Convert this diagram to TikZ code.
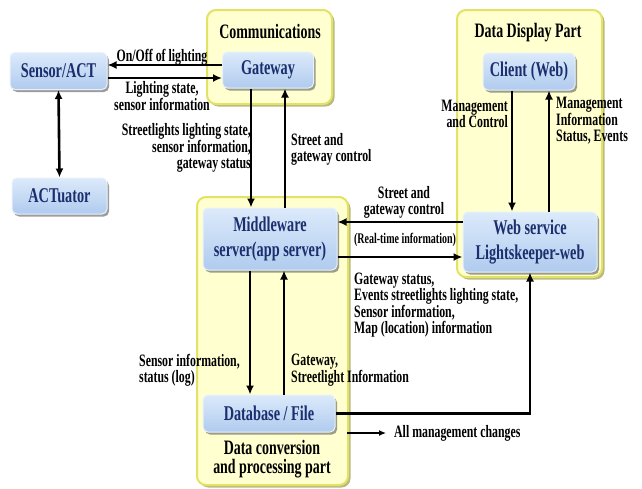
\documentclass[tikz,border=0pt]{standalone}
\usepackage{fontspec}
\setmainfont{Liberation Serif}[FakeStretch=0.68]
\usetikzlibrary{arrows.meta,shadows}
\definecolor{boxtext}{HTML}{1B2F6E}
\definecolor{boxtop}{HTML}{DCEAFB}
\definecolor{boxbot}{HTML}{B0CBEE}
\definecolor{boxrim}{HTML}{E8F1FC}
\definecolor{panelfill}{HTML}{FFFFCF}
\definecolor{panelrim}{HTML}{E2E266}
\definecolor{panelshade}{HTML}{A8A860}
\tikzset{
  panel/.style={draw=panelrim, line width=2pt, fill=panelfill, rounded corners=9pt,
    drop shadow={shadow xshift=2.5pt, shadow yshift=-2.5pt, fill=panelshade, opacity=0.8}},
  unit/.style={draw=boxrim, line width=1pt, top color=boxtop, bottom color=boxbot,
    rounded corners=5pt, text=boxtext, align=center, inner sep=0pt,
    font=\fontsize{21}{24.5}\selectfont\bfseries,
    drop shadow={shadow xshift=2pt, shadow yshift=-2.5pt, fill=black!70, opacity=0.55}},
  ptitle/.style={font=\fontsize{20.5}{19}\selectfont\bfseries, align=center, inner sep=0pt},
  lbl/.style={font=\fontsize{17.4}{16}\selectfont\bfseries, inner sep=0pt},
  arr/.style={line width=2.6pt, -{Latex[length=9pt,width=8pt]}},
  twoway/.style={line width=2.6pt, {Latex[length=9pt,width=8pt]}-{Latex[length=9pt,width=8pt]}},
  thinarr/.style={line width=1.2pt, -{Latex[length=7pt,width=6pt]}}
}
\begin{document}
\begin{tikzpicture}[x=1pt,y=-1pt]
\useasboundingbox (0,0) rectangle (642,488);

% background panels
\draw[panel] (207,10) rectangle (332,104);
\draw[panel] (197,197) rectangle (348,485);
\draw[panel] (457,10) rectangle (602,277);

\node[ptitle] (tcomm) at (270,32) {Communications};
\node[ptitle] (tdisp) at (528,33) {Data Display Part};
\node[ptitle] (tconv) at (272,459) {Data conversion\\and processing part};

% units
\node[unit, minimum width=97pt, minimum height=37pt] (sensor) at (58.5,71) {Sensor/ACT};
\node[unit, minimum width=95pt, minimum height=36pt] (actuator) at (59.5,196) {ACTuator};
\node[unit, minimum width=91pt, minimum height=36pt] (gateway) at (268,70) {Gateway};
\node[unit, minimum width=92pt, minimum height=37pt] (client) at (529,71.5) {Client (Web)};
\node[unit, minimum width=134pt, minimum height=62pt] (middleware) at (270,239) {Middleware\\server(app server)};
\node[unit, minimum width=134pt, minimum height=60pt] (webservice) at (530,242) {Web service\\Lightskeeper-web};
\node[unit, minimum width=132pt, minimum height=37pt] (database) at (269,413.5) {Database / File};

% guide lines for parallel connectors
\coordinate (yOn) at (0,65);
\coordinate (yState) at (0,78);
\coordinate (xDown) at (251,0);
\coordinate (xUp) at (285,0);
\coordinate (xDbDown) at (250,0);
\coordinate (xDbUp) at (284,0);
\coordinate (yCtrl) at (0,222);
\coordinate (yReal) at (0,257);
\coordinate (xClDown) at (512,0);
\coordinate (xClUp) at (549,0);
\coordinate (chgA) at (347,433);
\coordinate (chgB) at (386,433);

% connectors
\draw[arr] (gateway.west |- yOn) -- (sensor.east |- yOn);
\draw[arr] (sensor.east |- yState) -- (gateway.west |- yState);
\draw[twoway] (sensor.south) -- (actuator.north);
\draw[arr] (gateway.south -| xDown) -- (middleware.north -| xDown);
\draw[arr] (middleware.north -| xUp) -- (gateway.south -| xUp);
\draw[arr] (middleware.south -| xDbDown) -- (database.north -| xDbDown);
\draw[arr] (database.north -| xDbUp) -- (middleware.south -| xDbUp);
\draw[arr] (webservice.west |- yCtrl) -- (middleware.east |- yCtrl);
\draw[arr] (middleware.east |- yReal) -- (webservice.west |- yReal);
\draw[arr] (client.south -| xClDown) -- (webservice.north -| xClDown);
\draw[arr] (webservice.north -| xClUp) -- (client.south -| xClUp);
\draw[arr] (database.east) -| (webservice.south);
\draw[thinarr] (chgA) -- (chgB);

% connector labels
\node[lbl] (lOnOff) at (162,57) {On/Off of lighting};
\node[lbl, align=center] (lState) at (162,96) {Lighting state,\\sensor information};
\node[lbl, align=right, anchor=east] (lStreet) at (251,148) {Streetlights lighting state,\\sensor information,\\gateway status};
\node[lbl, align=left, anchor=west] (lGwCtrl) at (291,149) {Street and\\gateway control};
\node[lbl, align=right, anchor=east] (lMgmt) at (508,114) {Management\\and Control};
\node[lbl, align=left, anchor=west] (lMgmtInfo) at (556,121) {Management\\Information\\Status, Events};
\node[lbl, align=center] (lWebCtrl) at (404,202) {Street and\\gateway control};
\node[lbl, font=\fontsize{14.7}{12}\selectfont\bfseries] (lReal) at (405,240) {(Real-time information)};
\node[lbl, align=left, anchor=west] (lGwStatus) at (354,305) {Gateway status,\\Events streetlights lighting state,\\Sensor information,\\Map (location) information};
\node[lbl, align=left, anchor=west] (lLog) at (139,370) {Sensor information,\\status (log)};
\node[lbl, align=left, anchor=west] (lGwInfo) at (291,370) {Gateway,\\Streetlight Information};
\node[lbl, anchor=west] (lChanges) at (394,433) {All management changes};
\end{tikzpicture}
\end{document}
